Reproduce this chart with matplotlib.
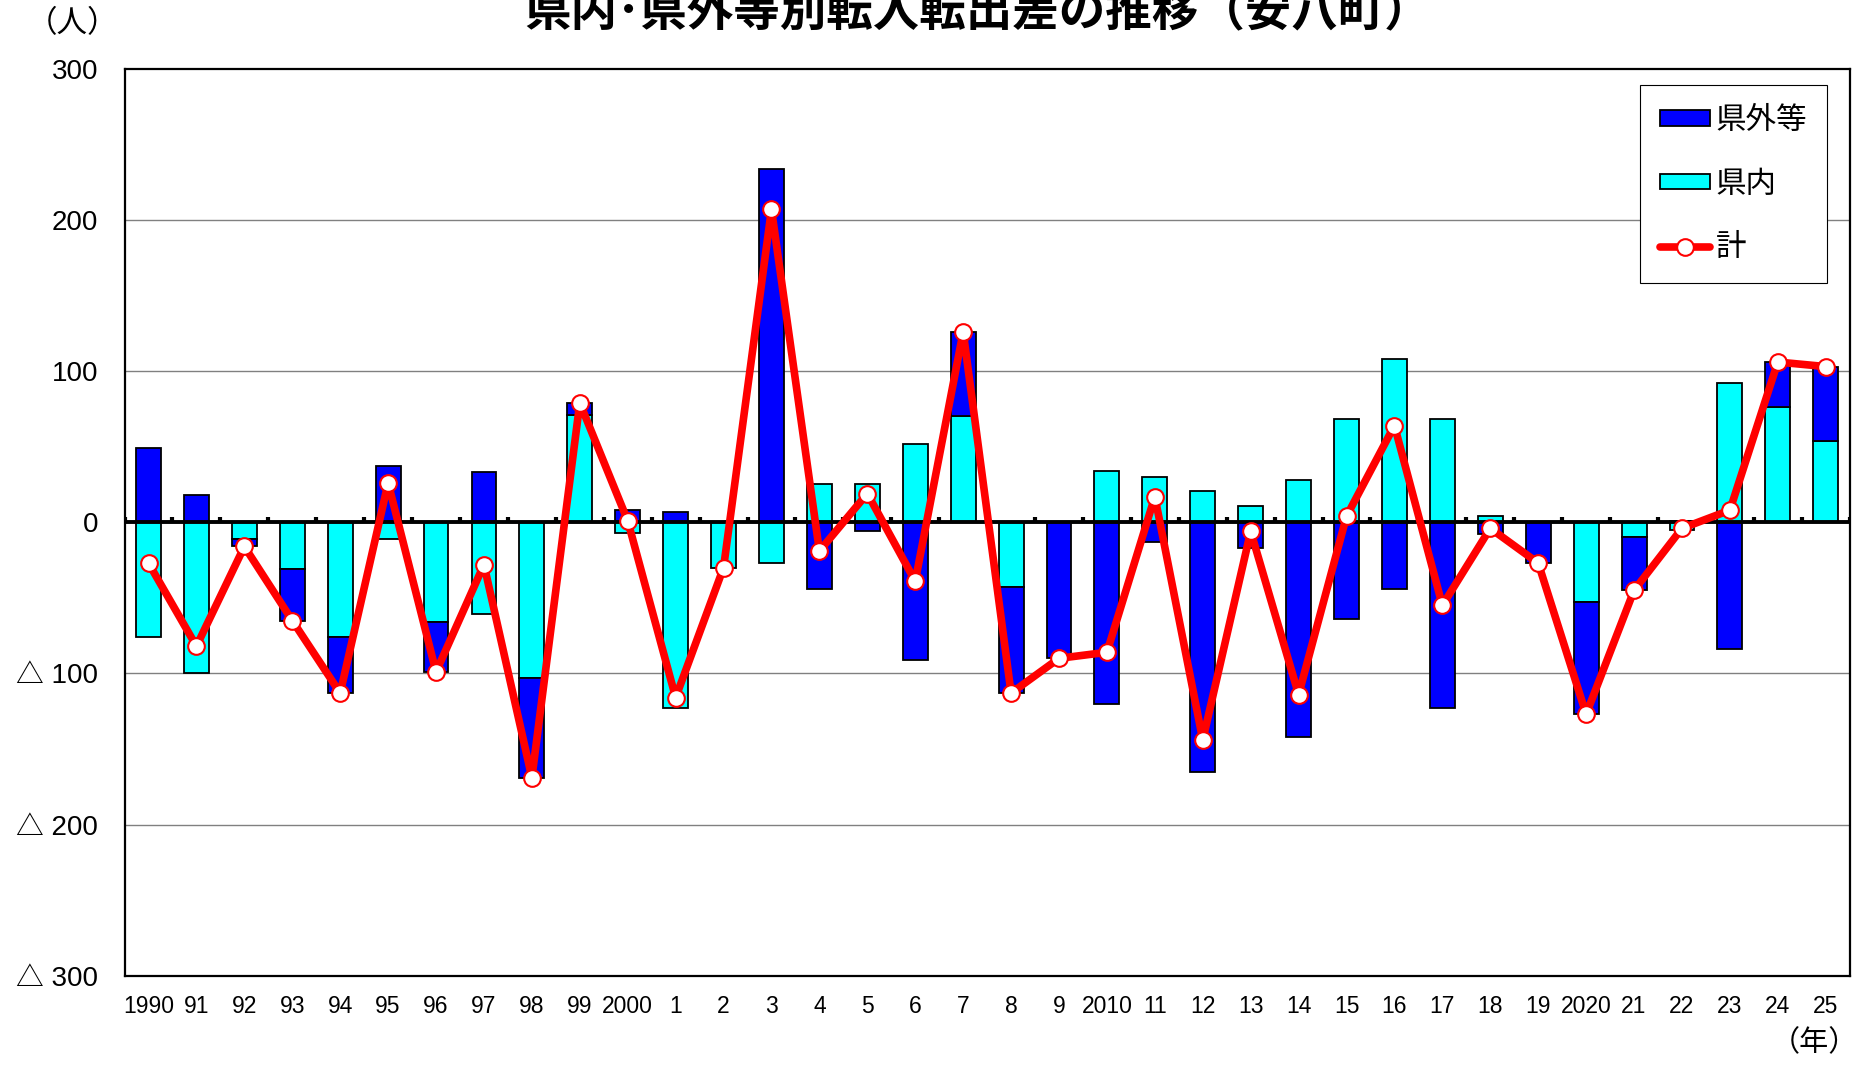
import numpy as np
import matplotlib
matplotlib.use("Agg")
import matplotlib.pyplot as plt
from matplotlib.patches import Patch
from matplotlib.lines import Line2D

plt.rcParams['font.family'] = ['Liberation Sans', 'Noto Sans CJK JP', 'DejaVu Sans']

years = ["1990", "91", "92", "93", "94", "95", "96", "97", "98", "99",
         "2000", "1", "2", "3", "4", "5", "6", "7", "8", "9",
         "2010", "11", "12", "13", "14", "15", "16", "17", "18", "19",
         "2020", "21", "22", "23", "24", "25"]

# 県内 (within prefecture)
kennai = [-76, -100, -11, -31, -76, -11, -66, -61, -103, 71,
          -7, -123, -30, -27, 25, 25, 52, 70, -43, 0,
          34, 30, 21, 11, 28, 68, 108, 68, 4, 0,
          -53, -10, -5, 92, 76, 54]

# 県外等 (outside prefecture etc.)
kengai = [49, 18, -5, -34, -37, 37, -33, 33, -66, 8,
          8, 7, 0, 234, -44, -6, -91, 56, -70, -90,
          -120, -13, -165, -17, -142, -64, -44, -123, -8, -27,
          -74, -35, 1, -84, 30, 49]

# 計 (total)
total = [-27, -82, -16, -65, -113, 26, -99, -28, -169, 79,
         1, -116, -30, 207, -19, 19, -39, 126, -113, -90,
         -86, 17, -144, -6, -114, 4, 64, -55, -4, -27,
         -127, -45, -4, 8, 106, 103]

yticks = [300, 200, 100, 0, -100, -200, -300]
ytick_labels = ["300", "200", "100", "0", "△ 100", "△ 200", "△ 300"]

title = "県内･県外等別転入転出差の推移（安八町）"

kennai = np.array(kennai)
kengai = np.array(kengai)
x = np.arange(len(years))

fig = plt.figure(figsize=(18.59, 10.65), dpi=100)
ax = fig.add_axes([0.067, 0.0838, 0.928, 0.8516])

# gridlines
for v in yticks:
    if v not in (0, 300, -300):
        ax.axhline(v, color="#808080", lw=1.0, zorder=0)

bw = 0.52
ax.bar(x, kennai, width=bw, color="#00FFFF", edgecolor="black", linewidth=1.3, zorder=2)
same_sign = np.sign(kengai) == np.sign(kennai)
bottom = np.where(same_sign, kennai, 0)
ax.bar(x, kengai, width=bw, bottom=bottom, color="#0000FF", edgecolor="black", linewidth=1.3, zorder=2)

ax.axhline(0, color="black", lw=2.8, zorder=3)
# small tick stubs on the zero line at category boundaries
bounds = np.arange(len(years) + 1) - 0.5
ax.vlines(bounds, 0, 3.8, color="black", lw=3.0, zorder=3)

ax.plot(x, total, color="#FF0000", lw=5.5, marker="o", ms=12, mfc="white",
        mec="#FF0000", mew=1.5, zorder=4, solid_joinstyle="round",
        solid_capstyle="round")

ax.set_xlim(-0.5, len(years) - 0.5)
ax.set_ylim(-300, 300)
ax.set_yticks(yticks)
ax.set_yticklabels(ytick_labels, fontsize=20)
ax.set_xticks(x)
ax.set_xticklabels(years, fontsize=16.5)
ax.tick_params(axis="y", length=0, pad=19)
ax.tick_params(axis="x", length=0, pad=14)
for s in ax.spines.values():
    s.set_linewidth(1.6)
    s.set_color("black")

handles = [Patch(facecolor="#0000FF", edgecolor="black", linewidth=1.3),
           Patch(facecolor="#00FFFF", edgecolor="black", linewidth=1.3),
           Line2D([], [], color="#FF0000", lw=5.5, marker="o", ms=12, mfc="white",
                  mec="#FF0000", mew=1.5, solid_capstyle="round")]
leg = ax.legend(handles, ["県外等", "県内", "計"], loc="upper right",
                bbox_to_anchor=(0.987, 0.982), borderaxespad=0, fancybox=False,
                edgecolor="black", framealpha=1, handlelength=1.63,
                handleheight=0.4, handletextpad=0.2, labelspacing=1.07,
                borderpad=0.65, prop={'family': ['Noto Sans CJK JP'], 'size': 22})
leg.get_frame().set_linewidth(0.8)

fig.text(0.526, 0.989, title, ha="center", va="center", fontsize=33.5,
         fontweight="bold", family=['Noto Sans CJK JP'])
fig.text(0.039, 0.978, "（人）", ha="center", va="center", fontsize=22,
         family=['Noto Sans CJK JP'])
fig.text(0.9995, 0.02, "（年）", ha="right", va="center", fontsize=21,
         family=['Noto Sans CJK JP'])

fig.savefig("out.png", dpi=100)
